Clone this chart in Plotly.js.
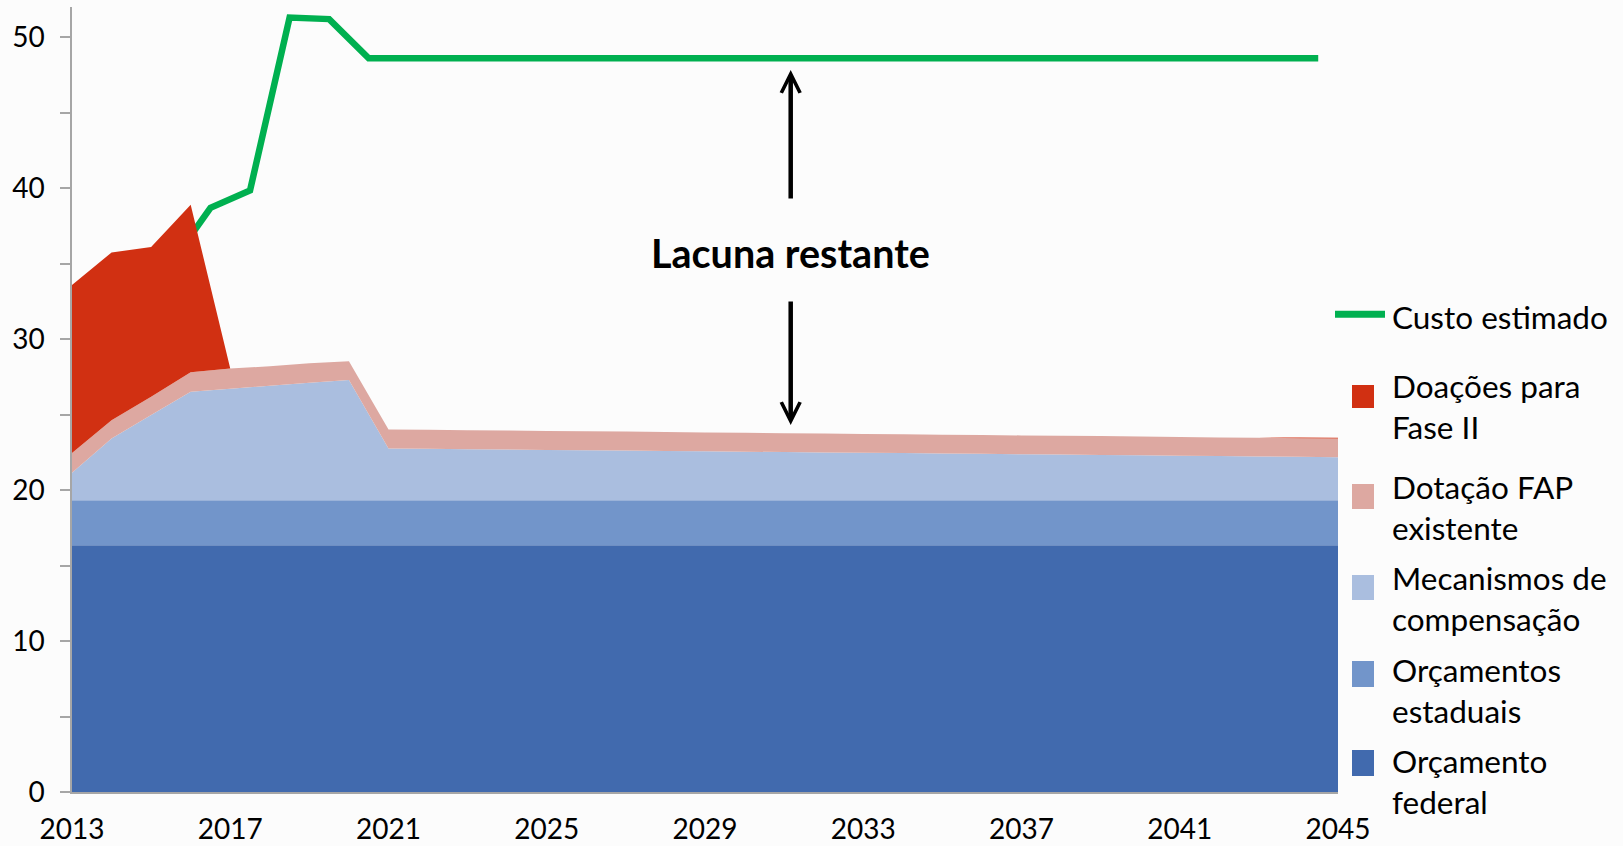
<!DOCTYPE html>
<html>
<head>
<meta charset="utf-8">
<script src="https://cdn.plot.ly/plotly-3.0.1.min.js"></script>
<style>
html, body { margin: 0; padding: 0; background: #fcfcfc; }
#chart { width: 1623px; height: 846px; }
</style>
</head>
<body>
<div id="chart"></div>
<script>
// ---------------- DATA ----------------
const years = [2013, 2014, 2015, 2016, 2017, 2018, 2019, 2020, 2021, 2022, 2023,
  2024, 2025, 2026, 2027, 2028, 2029, 2030, 2031, 2032, 2033, 2034, 2035, 2036,
  2037, 2038, 2039, 2040, 2041, 2042, 2043, 2044, 2045];

const orcamentoFederal = [16.35, 16.35, 16.35, 16.35, 16.35, 16.35, 16.35, 16.35,
  16.35, 16.35, 16.35, 16.35, 16.35, 16.35, 16.35, 16.35, 16.35, 16.35, 16.35,
  16.35, 16.35, 16.35, 16.35, 16.35, 16.35, 16.35, 16.35, 16.35, 16.35, 16.35,
  16.35, 16.35, 16.35];

const orcamentosEstaduais = [2.98, 2.98, 2.98, 2.98, 2.98, 2.98, 2.98, 2.98, 2.98,
  2.98, 2.98, 2.98, 2.98, 2.98, 2.98, 2.98, 2.98, 2.98, 2.98, 2.98, 2.98, 2.98,
  2.98, 2.98, 2.98, 2.98, 2.98, 2.98, 2.98, 2.98, 2.98, 2.98, 2.98];

const mecanismosCompensacao = [1.81, 4.08, 5.64, 7.19, 7.39, 7.58, 7.78, 7.96,
  3.43, 3.41, 3.38, 3.36, 3.33, 3.31, 3.29, 3.26, 3.24, 3.21, 3.19, 3.16, 3.14,
  3.12, 3.09, 3.07, 3.04, 3.02, 3.00, 2.97, 2.95, 2.92, 2.90, 2.87, 2.85];

const dotacaoFAP = [1.31, 1.21, 1.21, 1.28, 1.33, 1.29, 1.29, 1.25, 1.26, 1.26,
  1.26, 1.26, 1.26, 1.26, 1.26, 1.26, 1.25, 1.25, 1.25, 1.25, 1.25, 1.25, 1.25,
  1.25, 1.25, 1.25, 1.25, 1.25, 1.24, 1.24, 1.24, 1.24, 1.24];

const doacoesFaseII = [11.13, 11.12, 9.92, 11.10, 0, 0, 0, 0, 0, 0, 0, 0, 0, 0, 0,
  0, 0, 0, 0, 0, 0, 0, 0, 0, 0, 0, 0, 0, 0, 0, 0, 0.05, 0.05];

// Estimated cost line (one value per year, drawn at the middle of each year band);
// the first two years are hidden behind the red area in the original.
const custoYears = [2013, 2014, 2015, 2016, 2017, 2018, 2019, 2020, 2021, 2022,
  2023, 2024, 2025, 2026, 2027, 2028, 2029, 2030, 2031, 2032, 2033, 2034, 2035,
  2036, 2037, 2038, 2039, 2040, 2041, 2042, 2043, 2044];
const custoEstimado = [null, null, 35.0, 38.7, 39.85, 51.3, 51.2, 48.6, 48.6, 48.6,
  48.6, 48.6, 48.6, 48.6, 48.6, 48.6, 48.6, 48.6, 48.6, 48.6, 48.6, 48.6, 48.6,
  48.6, 48.6, 48.6, 48.6, 48.6, 48.6, 48.6, 48.6, 48.6];

const xTickYears = [2013, 2017, 2021, 2025, 2029, 2033, 2037, 2041, 2045];
const yTickValues = [0, 5, 10, 15, 20, 25, 30, 35, 40, 45, 50];
const yTickLabels = ['0', '', '10', '', '20', '', '30', '', '40', '', '50'];

const seriesNames = ['Orçamento federal', 'Orçamentos estaduais',
  'Mecanismos de compensação', 'Dotação FAP existente', 'Doações para Fase II'];
const seriesLegendLabels = ['Orçamento<br>federal', 'Orçamentos<br>estaduais',
  'Mecanismos de<br>compensação', 'Dotação FAP<br>existente', 'Doações para<br>Fase II'];
const custoName = 'Custo estimado';
const gapLabel = 'Lacuna restante';

// ---------------- STYLE ----------------
const FONT = 'Lato, "Open Sans", "Noto Sans", sans-serif';
const seriesColors = ['#416AAE', '#7295CA', '#AABEDF', '#DDA8A1', '#D13012'];
const custoColor = '#00B050';
const axisGrey = '#A6A6A6';

// plot-area geometry (pixels)
const W = 1623, Hh = 846;
const M = { l: 72, r: 285, t: 7, b: 54 };
const PW = W - M.l - M.r, PH = Hh - M.t - M.b;
const px = x => (x - M.l) / PW;
const py = y => (M.t + PH - y) / PH;

const seriesValues = [orcamentoFederal, orcamentosEstaduais, mecanismosCompensacao,
  dotacaoFAP, doacoesFaseII];

const traces = [];
// cost line first so the red area is drawn over it
traces.push({
  type: 'scatter', mode: 'lines', name: custoName,
  x: custoYears.map(y => y + 0.5), y: custoEstimado,
  line: { color: custoColor, width: 6.5, shape: 'linear' },
  connectgaps: false, showlegend: false, hoverinfo: 'x+y+name'
});
seriesValues.forEach((vals, i) => {
  traces.push({
    type: 'scatter', mode: 'none', name: seriesNames[i],
    x: years, y: vals, stackgroup: 'fundos',
    fillcolor: seriesColors[i], line: { width: 0 },
    showlegend: false
  });
});

// ---------------- custom legend (layout positions) ----------------
const LEG_FS = 31.5;
const legendRows = [
  { kind: 'line', color: custoColor, label: custoName, y0: 314.3, baseline: 328.3 },
  { kind: 'box', idx: 4, y0: 385, y1: 408, baseline: 396.7 },
  { kind: 'box', idx: 3, y0: 484, y1: 509, baseline: 498.3 },
  { kind: 'box', idx: 2, y0: 575, y1: 600, baseline: 589 },
  { kind: 'box', idx: 1, y0: 661, y1: 687, baseline: 680.7 },
  { kind: 'box', idx: 0, y0: 750, y1: 776, baseline: 771.7 }
];
const shapes = [];
const annotations = [];
legendRows.forEach(r => {
  if (r.kind === 'line') {
    shapes.push({ type: 'line', xref: 'paper', yref: 'paper',
      x0: px(1335), x1: px(1385), y0: py(r.y0), y1: py(r.y0),
      line: { color: r.color, width: 7 } });
  } else {
    shapes.push({ type: 'rect', xref: 'paper', yref: 'paper',
      x0: px(1352), x1: px(1374), y0: py(r.y1), y1: py(r.y0),
      fillcolor: seriesColors[r.idx], line: { width: 0 } });
  }
  const label = r.kind === 'line' ? r.label : seriesLegendLabels[r.idx];
  annotations.push({
    xref: 'paper', yref: 'paper', x: px(1389.5), y: py(r.baseline - 0.99 * LEG_FS - 1),
    xanchor: 'left', yanchor: 'top', align: 'left', showarrow: false,
    text: label, font: { family: FONT, size: LEG_FS, color: '#000' }
  });
});

// gap label and arrows
const GAP_FS = 39.5;
annotations.push({
  xref: 'paper', yref: 'paper', x: px(790.7), y: py(266.7 - 0.99 * GAP_FS - 1),
  xanchor: 'center', yanchor: 'top', showarrow: false,
  text: '<b>' + gapLabel + '</b>', font: { family: FONT, size: GAP_FS, color: '#000' }
});
annotations.push({
  xref: 'paper', yref: 'paper', x: px(790.7), y: py(70), text: '',
  showarrow: true, arrowhead: 5, arrowsize: 0.82, arrowwidth: 4.5, arrowcolor: '#000',
  ax: 0, ay: 130
});
annotations.push({
  xref: 'paper', yref: 'paper', x: px(790.7), y: py(425), text: '',
  showarrow: true, arrowhead: 5, arrowsize: 0.82, arrowwidth: 4.5, arrowcolor: '#000',
  ax: 0, ay: -125
});

const layout = {
  width: W, height: Hh,
  margin: M,
  paper_bgcolor: '#fcfcfc', plot_bgcolor: '#fcfcfc',
  showlegend: false,
  font: { family: FONT, size: 28, color: '#000' },
  xaxis: {
    range: [2013, 2045], tickvals: xTickYears, ticktext: xTickYears.map(String),
    ticks: '', ticklabelstandoff: 12, showline: true, linecolor: axisGrey, linewidth: 1.5,
    showgrid: false, zeroline: false, fixedrange: true,
    tickfont: { family: FONT, size: 28, color: '#000' }
  },
  yaxis: {
    range: [0, 52], tickvals: yTickValues, ticktext: yTickLabels,
    ticks: 'outside', ticklen: 10, tickwidth: 1.5, tickcolor: axisGrey,
    ticklabelstandoff: 10,
    showline: true, linecolor: axisGrey, linewidth: 1.5,
    showgrid: false, zeroline: false, fixedrange: true,
    tickfont: { family: FONT, size: 28, color: '#000' }
  },
  shapes: shapes,
  annotations: annotations
};

Plotly.newPlot('chart', traces, layout, { displayModeBar: false });
</script>
</body>
</html>
